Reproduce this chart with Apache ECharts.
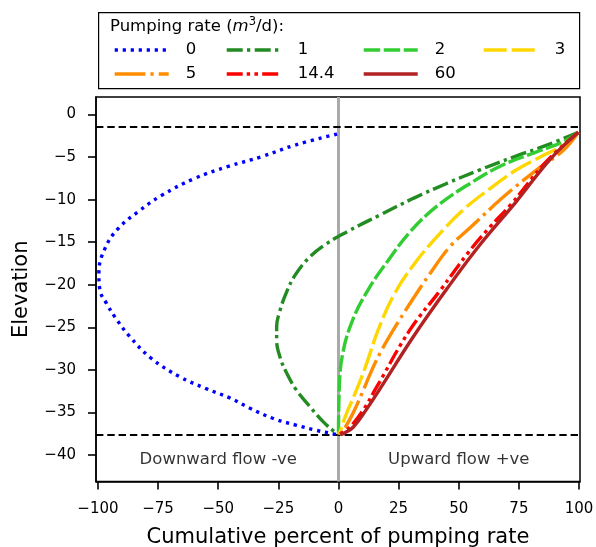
<!DOCTYPE html>
<html>
<head>
<meta charset="utf-8">
<script src="https://cdn.jsdelivr.net/npm/echarts@6/dist/echarts.min.js"></script>
<style>
  html, body { margin: 0; padding: 0; background: #fff; }
  #chart { width: 596px; height: 547px; }
</style>
</head>
<body>
<div id="chart"></div>
<script>
// Cumulative percent of pumping rate vs elevation, one curve per pumping rate.
// Each point is [cumulative percent, elevation].
const rateNames = ['0', '1', '2', '3', '5', '14.4', '60'];

const q0 = [[-0.6,-2.3],[-18.1,-3.6],[-31.9,-4.95],[-45.8,-6.1],[-59.7,-7.5],[-73.5,-9.5],
  [-83.2,-11.4],[-91.6,-13.4],[-97,-15.7],[-99.6,-18.5],[-99.2,-20.6],[-96.4,-22.2],
  [-92.9,-23.8],[-87,-26],[-78,-28.6],[-66,-30.8],[-55,-32.2],[-45.1,-33.3],[-36.8,-34.5],
  [-27.1,-35.7],[-17.4,-36.5],[-9.1,-37.1],[-2.2,-37.5],[-0.6,-37.6]];
const q1 = [[99.7,-2.1],[86.6,-3.6],[72.7,-5.0],[58.8,-6.5],[45,-8.1],[31.1,-9.85],
  [17.3,-11.8],[3.4,-13.8],[-5.6,-15.3],[-12.5,-16.9],[-18.1,-18.9],[-21.5,-20.8],
  [-24.3,-23],[-25.7,-24.9],[-25.7,-26.5],[-24.3,-28.5],[-21.5,-30.4],[-17.4,-32.4],
  [-11.9,-34.3],[-6.3,-36.1],[-1.5,-37.3],[0,-37.6]];
const q2 = [[99.7,-2.1],[93.5,-3.2],[82.4,-4.4],[68.5,-5.9],[54.7,-8.1],[40.8,-10.8],
  [29.7,-13.8],[20.5,-17.2],[12.5,-20.5],[5.8,-24.2],[1.6,-28.3],[0.3,-32.4],[0,-37.6]];
const q3 = [[99.7,-2.1],[93.5,-3.6],[85.2,-4.8],[74,-6.5],[63,-8.7],[51.9,-11.2],
  [40.8,-14.4],[31.1,-17.7],[23,-21.2],[16.5,-25.3],[11,-29.8],[6.4,-33.1],
  [2.8,-35.5],[0.3,-37.6]];
const q5 = [[99.7,-2.1],[93.5,-4.2],[82.4,-6.5],[68.5,-9.7],[54.7,-13.3],[46.4,-15.5],
  [38,-18.7],[29.7,-22.2],[22.8,-25.3],[17.5,-27.9],[13.6,-30.2],[10,-32.6],
  [6,-35.1],[2,-37.1],[0.3,-37.6]];
const q14 = [[99.7,-2.1],[93.5,-3.6],[85.2,-5.9],[71.6,-10.6],[63,-13.2],[54,-16.2],
  [42.2,-20.7],[29.7,-25.3],[15.9,-32],[10.3,-34.7],[4.8,-36.7],[0.6,-37.5]];
const q60 = [[99.7,-2.1],[87.9,-5.3],[74,-10.2],[58.8,-15.3],[45,-20.5],[31.1,-26.1],
  [17.3,-32.2],[11.7,-34.6],[6.2,-36.7],[2.5,-37.4],[0.8,-37.6]];

// Horizontal reference elevations and the zero-flow divide.
const refElevations = [-1.5, -37.65];
const divideX = 0;

// Tick labels
const xTicks = [-100, -75, -50, -25, 0, 25, 50, 75, 100];
const yTicks = [-40, -35, -30, -25, -20, -15, -10, -5, 0];

// Flow-direction notes
const notes = [
  { text: 'Downward flow -ve', x: -50, y: -40.6 },
  { text: 'Upward flow +ve', x: 50, y: -40.6 }
];

const curves = [q0, q1, q2, q3, q5, q14, q60];
const colors = ['#0000ff', '#228b22', '#32cd32', '#ffd700', '#ff8c00', '#ff0000', '#b22222'];
const dashes = [
  [3.2, 4.8],
  [16, 4.3, 3.3, 4.4],
  [16.5, 3.5],
  [23, 5],
  [30.7, 5, 3.3, 5],
  [16, 4, 3.4, 4.3, 3.6, 4.2],
  'solid'
];

const FONT = 'DejaVu Sans';
const LW = 3.4;
const X_MIN = -100.8, X_MAX = 100.4, Y_MIN = -43.1, Y_MAX = 2.05;
const chart = echarts.init(document.getElementById('chart'), null, { renderer: 'canvas' });

const lineSeries = curves.map((data, i) => ({
  name: rateNames[i],
  type: 'line',
  data: data,
  symbol: 'none',
  smooth: 0.4,
  z: 5 + i,
  lineStyle: { color: colors[i], width: LW, type: dashes[i], cap: 'butt' },
  itemStyle: { color: colors[i] },
  animation: false
}));

// Guide lines drawn under the curves
const guideSeries = {
  name: 'guides',
  type: 'line',
  data: [],
  z: 2,
  silent: true,
  animation: false,
  markLine: {
    symbol: 'none',
    silent: true,
    label: { show: false },
    animation: false,
    data: [
      { xAxis: divideX, lineStyle: { color: '#aaaaaa', width: 3, type: 'solid' } },
      ...refElevations.map(v => ({ yAxis: v, lineStyle: { color: '#000', width: 2.2, type: [7.4, 3.9] } }))
    ]
  }
};

const noteSeries = {
  name: 'notes',
  type: 'scatter',
  symbolSize: 0,
  silent: true,
  animation: false,
  z: 20,
  data: notes.map(n => ({ value: [n.x, n.y], label: { formatter: n.text } })),
  label: {
    show: true, position: 'inside', color: '#000',
    fontFamily: FONT, fontSize: 16.5
  }
};

// Legend: four columns, filled column by column
const legendCols = [['0', '5'], ['1', '14.4'], ['2', '60'], ['3']];
const legendLeft = [113, 225, 362, 482];
const legends = legendCols.map((names, c) => ({
  data: names,
  orient: 'vertical',
  left: legendLeft[c],
  top: 41.5,
  padding: 0,
  itemWidth: 54,
  itemHeight: 16,
  itemGap: 7,
  selectedMode: false,
  itemStyle: { opacity: 0 },
  lineStyle: { width: LW },
  textStyle: { fontFamily: FONT, fontSize: 16.5, color: '#000', padding: [0, 0, 0, 12], lineHeight: 16 }
}));

const tickFmt = v => (v < 0 ? '\u2212' + Math.abs(v) : String(v));

chart.setOption({
  animation: false,
  backgroundColor: '#fff',
  grid: {
    left: 96, right: 16, top: 97, bottom: 65.5,
    outerBoundsMode: 'none',
    containLabel: false,
    show: true, borderColor: '#000', borderWidth: 1.5, backgroundColor: 'transparent'
  },
  legend: legends,
  xAxis: {
    type: 'value',
    min: X_MIN, max: X_MAX,
    name: 'Cumulative percent of pumping rate',
    nameLocation: 'middle',
    nameGap: 46,
    nameTextStyle: { fontFamily: FONT, fontSize: 21, color: '#000' },
    axisLine: { show: true, onZero: false, lineStyle: { color: '#000', width: 1.5 } },
    axisTick: { show: true, length: 8, lineStyle: { color: '#000', width: 1.6 }, customValues: xTicks },
    axisLabel: {
      fontFamily: FONT, fontSize: 15, color: '#000', margin: 20, customValues: xTicks,
      formatter: tickFmt
    },
    splitLine: { show: false }
  },
  yAxis: {
    type: 'value',
    min: Y_MIN, max: Y_MAX,
    name: 'Elevation',
    nameLocation: 'middle',
    nameGap: 64,
    nameTextStyle: { fontFamily: FONT, fontSize: 21, color: '#000' },
    axisLine: { show: true, onZero: false, lineStyle: { color: '#000', width: 1.5 } },
    axisTick: { show: true, length: 8, lineStyle: { color: '#000', width: 1.6 }, customValues: yTicks },
    axisLabel: {
      fontFamily: FONT, fontSize: 15, color: '#000', margin: 20, customValues: yTicks,
      formatter: tickFmt
    },
    splitLine: { show: false }
  },
  graphic: [
    {
      type: 'rect', left: 98, top: 12, z: 0,
      shape: { x: 0, y: 0, width: 481, height: 76 },
      style: { fill: '#fff', stroke: '#000', lineWidth: 1.2 }
    },
    {
      type: 'text', left: 110, top: 16, z: 10,
      style: {
        text: '{n|Pumping rate (}{i|m}{s|3}{n|/d):}',
        rich: {
          n: { fontFamily: FONT, fontSize: 16.5, fill: '#000' },
          i: { fontFamily: FONT, fontSize: 16.5, fontStyle: 'italic', fill: '#000' },
          s: { fontFamily: FONT, fontSize: 11.5, fill: '#000', padding: [0, 0, 9, 0] }
        }
      }
    }
  ],
  series: [guideSeries, ...lineSeries, noteSeries]
});
</script>
</body>
</html>
